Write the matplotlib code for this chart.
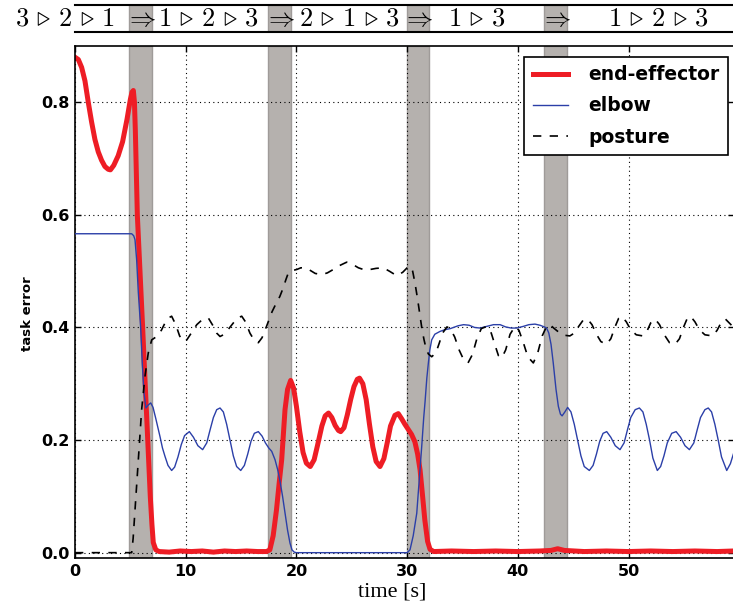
import numpy as np
import matplotlib.pyplot as plt

plt.rcParams['mathtext.fontset'] = 'cm'
plt.rcParams['font.family'] = 'DejaVu Sans'

# task errors, (time [s], error)
end_effector = [(0, 0.880), (0.3, 0.876), (0.6, 0.862), (0.9, 0.838), (1.2, 0.800), (1.5, 0.765),
                (1.8, 0.734), (2.1, 0.712), (2.4, 0.697), (2.7, 0.686), (3.0, 0.681), (3.2, 0.680),
                (3.5, 0.688), (3.9, 0.705), (4.3, 0.730), (4.7, 0.770), (5.0, 0.805), (5.15, 0.818),
                (5.27, 0.821), (5.37, 0.800), (5.45, 0.750), (5.63, 0.600), (5.87, 0.500), (6.11, 0.400),
                (6.34, 0.300), (6.57, 0.200), (6.8, 0.100), (6.95, 0.050), (7.07, 0.018), (7.3, 0.005),
                (7.6, 0.002), (8.5, 0.001), (9.5, 0.003), (10.5, 0.002), (11.5, 0.003), (12.5, 0.001),
                (13.5, 0.003), (14.5, 0.002), (15.5, 0.003), (16.5, 0.002), (17.3, 0.002), (17.6, 0.005),
                (17.9, 0.030), (18.2, 0.076), (18.45, 0.125), (18.67, 0.165), (18.97, 0.254), (19.2, 0.290),
                (19.48, 0.306), (19.75, 0.292), (20.0, 0.260), (20.3, 0.215), (20.6, 0.178), (20.9, 0.159),
                (21.25, 0.153), (21.6, 0.165), (21.9, 0.190), (22.3, 0.225), (22.6, 0.243), (22.9, 0.248),
                (23.2, 0.240), (23.5, 0.226), (23.8, 0.217), (24.0, 0.215), (24.3, 0.222), (24.6, 0.245),
                (24.9, 0.272), (25.2, 0.295), (25.5, 0.308), (25.7, 0.310), (26.0, 0.300), (26.3, 0.272),
                (26.6, 0.228), (26.9, 0.188), (27.2, 0.162), (27.55, 0.153), (27.9, 0.167), (28.2, 0.195),
                (28.5, 0.225), (28.9, 0.244), (29.2, 0.247), (29.5, 0.238), (29.8, 0.228), (30.1, 0.219),
                (30.4, 0.210), (30.7, 0.197), (30.95, 0.175), (31.17, 0.147), (31.4, 0.100), (31.6, 0.058),
                (31.85, 0.020), (32.07, 0.006), (32.4, 0.002), (34, 0.003), (36, 0.002), (38, 0.003),
                (40, 0.002), (42, 0.003), (43.0, 0.004), (43.6, 0.007), (44.2, 0.004), (46, 0.002),
                (48, 0.003), (50, 0.002), (52, 0.003), (54, 0.002), (56, 0.003), (58, 0.002), (59.5, 0.003)]

elbow = [(0, 0.5665), (5.12, 0.5665), (5.3, 0.563), (5.42, 0.556), (5.57, 0.520), (5.72, 0.462),
         (5.93, 0.400), (6.08, 0.335), (6.23, 0.284), (6.41, 0.257), (6.6, 0.262), (6.84, 0.266),
         (7.05, 0.258), (7.3, 0.238), (7.68, 0.206), (7.9, 0.186), (8.13, 0.171), (8.4, 0.155),
         (8.73, 0.146), (9.0, 0.152), (9.3, 0.170), (9.6, 0.192), (9.9, 0.208), (10.33, 0.215),
         (10.7, 0.205), (11.1, 0.190), (11.53, 0.183), (11.9, 0.195), (12.2, 0.218), (12.5, 0.240),
         (12.8, 0.254), (13.1, 0.257), (13.4, 0.250), (13.7, 0.228), (14.0, 0.200), (14.3, 0.172),
         (14.6, 0.153), (14.97, 0.146), (15.3, 0.155), (15.6, 0.175), (15.9, 0.198), (16.2, 0.212),
         (16.56, 0.215), (16.9, 0.207), (17.2, 0.195), (17.5, 0.186), (17.77, 0.180), (18.07, 0.165),
         (18.3, 0.148), (18.5, 0.129), (18.75, 0.100), (18.97, 0.070), (19.2, 0.040), (19.42, 0.017),
         (19.6, 0.005), (19.8, 0.001), (20.0, 0.0), (30.0, 0.0), (30.26, 0.005), (30.55, 0.030),
         (30.87, 0.070), (31.1, 0.130), (31.32, 0.189), (31.5, 0.240), (31.62, 0.268), (31.78, 0.310),
         (31.92, 0.337), (32.05, 0.360), (32.22, 0.378), (32.5, 0.388), (32.97, 0.393), (33.4, 0.396),
         (33.9, 0.398), (34.6, 0.403), (35.1, 0.405), (35.6, 0.404), (36.1, 0.400), (36.6, 0.399),
         (37.2, 0.402), (37.8, 0.405), (38.4, 0.405), (38.9, 0.401), (39.4, 0.399), (39.9, 0.399),
         (40.5, 0.402), (41.0, 0.405), (41.55, 0.406), (42.0, 0.404), (42.4, 0.401), (42.6, 0.399),
         (42.8, 0.390), (43.0, 0.370), (43.2, 0.337), (43.45, 0.290), (43.66, 0.260), (43.85, 0.246),
         (44.0, 0.243), (44.25, 0.250), (44.5, 0.258), (44.8, 0.250), (45.1, 0.228), (45.4, 0.200),
         (45.7, 0.172), (46.0, 0.153), (46.46, 0.146), (46.8, 0.155), (47.1, 0.175), (47.4, 0.198),
         (47.7, 0.212), (48.03, 0.215), (48.4, 0.205), (48.8, 0.190), (49.23, 0.183), (49.6, 0.195),
         (49.9, 0.218), (50.2, 0.240), (50.6, 0.254), (50.98, 0.257), (51.3, 0.250), (51.6, 0.228),
         (51.9, 0.200), (52.2, 0.168), (52.6, 0.146), (52.9, 0.153), (53.2, 0.172), (53.5, 0.195),
         (53.9, 0.212), (54.3, 0.215), (54.7, 0.205), (55.1, 0.190), (55.5, 0.183), (55.9, 0.195),
         (56.2, 0.218), (56.5, 0.240), (56.9, 0.254), (57.2, 0.257), (57.5, 0.250), (57.8, 0.228),
         (58.1, 0.200), (58.4, 0.170), (58.87, 0.146), (59.2, 0.158), (59.5, 0.177)]

posture = [(0, 0.0), (5.12, 0.0), (5.25, 0.025), (5.42, 0.076), (5.72, 0.165), (6.02, 0.254),
           (6.32, 0.313), (6.62, 0.355), (6.93, 0.378), (7.38, 0.384), (7.8, 0.395), (8.13, 0.408),
           (8.45, 0.417), (8.73, 0.420), (9.1, 0.405), (9.45, 0.385), (9.78, 0.375), (10.1, 0.378),
           (10.5, 0.390), (11.0, 0.405), (11.5, 0.414), (12.04, 0.417), (12.5, 0.402), (12.8, 0.390),
           (13.1, 0.384), (13.5, 0.388), (13.9, 0.398), (14.3, 0.408), (14.7, 0.417), (15.06, 0.420),
           (15.4, 0.410), (15.8, 0.390), (16.2, 0.377), (16.56, 0.373), (16.9, 0.382), (17.3, 0.402),
           (17.8, 0.428), (18.2, 0.444), (18.5, 0.455), (18.8, 0.470), (19.05, 0.485), (19.27, 0.497),
           (19.6, 0.501), (20.03, 0.503), (20.4, 0.506), (20.78, 0.506), (21.2, 0.502), (21.7, 0.496),
           (22.3, 0.494), (22.8, 0.497), (23.33, 0.503), (23.9, 0.510), (24.54, 0.516), (25.0, 0.513),
           (25.6, 0.506), (26.2, 0.502), (26.65, 0.503), (27.2, 0.505), (27.85, 0.506), (28.4, 0.500),
           (29.06, 0.492), (29.6, 0.498), (30.0, 0.506), (30.26, 0.509), (30.5, 0.500), (30.71, 0.479),
           (30.95, 0.450), (31.17, 0.420), (31.35, 0.396), (31.53, 0.378), (31.72, 0.362), (31.92, 0.353),
           (32.22, 0.348), (32.6, 0.355), (32.9, 0.372), (33.2, 0.390), (33.6, 0.401), (33.9, 0.398),
           (34.3, 0.383), (34.7, 0.360), (35.1, 0.343), (35.5, 0.337), (35.9, 0.352), (36.3, 0.380),
           (36.7, 0.398), (37.2, 0.402), (37.6, 0.390), (37.95, 0.368), (38.25, 0.350), (38.55, 0.346),
           (38.9, 0.360), (39.3, 0.388), (39.75, 0.402), (40.1, 0.395), (40.5, 0.373), (40.9, 0.348),
           (41.4, 0.337), (41.8, 0.355), (42.2, 0.385), (42.6, 0.402), (42.9, 0.405), (43.3, 0.398),
           (43.8, 0.390), (44.3, 0.386), (44.7, 0.385), (45.1, 0.390), (45.5, 0.402), (45.9, 0.413),
           (46.3, 0.415), (46.7, 0.405), (47.1, 0.388), (47.5, 0.375), (48.0, 0.370), (48.4, 0.380),
           (48.8, 0.402), (49.1, 0.416), (49.4, 0.420), (49.8, 0.410), (50.2, 0.396), (50.7, 0.387),
           (51.3, 0.385), (51.7, 0.395), (52.0, 0.408), (52.4, 0.415), (52.8, 0.405), (53.2, 0.388),
           (53.7, 0.373), (54.2, 0.370), (54.6, 0.380), (55.0, 0.402), (55.3, 0.416), (55.6, 0.420),
           (56.0, 0.410), (56.4, 0.396), (56.9, 0.387), (57.6, 0.385), (58.0, 0.395), (58.4, 0.410),
           (58.75, 0.415), (59.1, 0.408), (59.5, 0.400)]

# priority switches (grey bands) and the task hierarchies in between
switches = [(4.9, 6.95), (17.45, 19.5), (29.95, 32.0), (42.4, 44.45)]
hierarchies = [r'$3 \,\triangleright\, 2 \,\triangleright\, 1$', r'$1 \,\triangleright\, 2 \,\triangleright\, 3$',
               r'$2 \,\triangleright\, 1 \,\triangleright\, 3$', r'$1 \,\triangleright\, 3$',
               r'$1 \,\triangleright\, 2 \,\triangleright\, 3$']
hier_x = [-0.9, 12.05, 24.8, 36.3, 52.7]

W, H = 733, 607
fig = plt.figure(figsize=(W / 100, H / 100), dpi=100)
ax = fig.add_axes([75 / W, 1 - 558.3 / H, 658.7 / W, 512.3 / H])

band_fc, band_ec = '#b5b1ae', '#9f9b99'
for a, b in switches:
    ax.axvspan(a, b, facecolor=band_fc, edgecolor=band_ec, lw=1, zorder=1)

t, e = zip(*end_effector)
ax.plot(t, e, color='#ee1d25', lw=3.6, label='end-effector', zorder=2)
t, e = zip(*elbow)
ax.plot(t, e, color='#2b3fa8', lw=1.0, label='elbow', zorder=3)
t, e = zip(*posture)
ax.plot(t, e, color='k', lw=1.2, dashes=(5, 5), label='posture', zorder=4)

ax.set_xlim(0, 59.5)
ax.set_ylim(-0.01, 0.90)
ax.set_xticks([0, 10, 20, 30, 40, 50])
ax.set_yticks([0.0, 0.2, 0.4, 0.6, 0.8])
ax.grid(True, color='k', linestyle=(0, (1, 3)), linewidth=0.8)
ax.tick_params(direction='in', top=True, right=True, length=4, width=1, labelsize=11.5, pad=4)
for lbl in ax.get_xticklabels() + ax.get_yticklabels():
    lbl.set_fontweight('bold')
for s in ax.spines.values():
    s.set_linewidth(1.2)

ax.set_xlabel('time [s]', fontfamily='Liberation Serif', fontsize=16)
ax.xaxis.set_label_coords(0.481, -0.048)
ax.set_ylabel('task error', fontweight='bold', fontsize=9.5)
ax.yaxis.set_label_coords(-0.062, 0.477)

leg = ax.legend(loc='upper right', bbox_to_anchor=(728 / W, 1 - 56.7 / H), bbox_transform=fig.transFigure,
                borderaxespad=0, prop={'weight': 'bold', 'size': 13.5}, handlelength=1.87,
                handletextpad=1.1, labelspacing=0.65, borderpad=0.45, fancybox=False, framealpha=1,
                edgecolor='k')
leg.get_frame().set_linewidth(1.2)

# strip on top with the hierarchy of each phase
strip = fig.add_axes([75 / W, 1 - 32.3 / H, 658.7 / W, 27.3 / H])
strip.set_xlim(ax.get_xlim())
strip.set_ylim(0, 1)
strip.axis('off')
for a, b in switches:
    strip.axvspan(a, b, facecolor=band_fc, edgecolor=band_ec, lw=1)
    strip.text((a + b) / 2, 0.5, r'$\Rightarrow$', fontsize=19, ha='center', va='center')
for x, s in zip(hier_x, hierarchies):
    strip.text(x, 0.5, s, fontsize=19, ha='center', va='center', clip_on=False)
strip.axhline(0, color='k', lw=1.5, clip_on=False)
strip.axhline(1, color='k', lw=1.5, clip_on=False)

fig.savefig('out.png', dpi=100)
